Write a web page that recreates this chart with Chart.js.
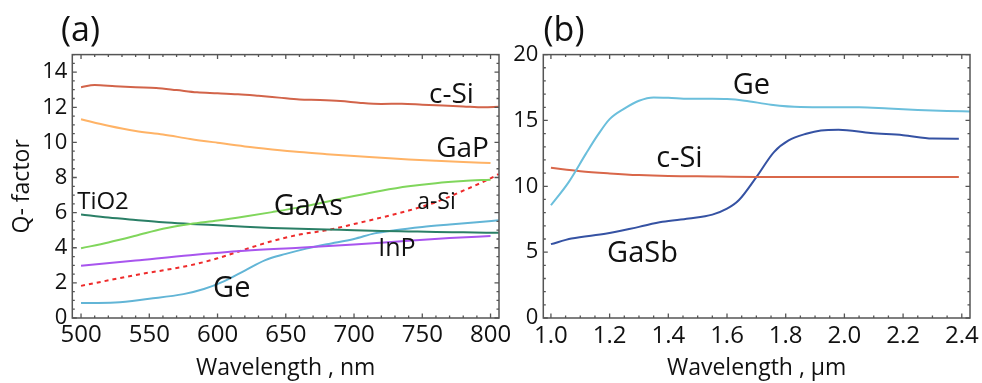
<!DOCTYPE html>
<html><head><meta charset="utf-8">
<script src="https://cdn.jsdelivr.net/npm/chart.js@4.4.1/dist/chart.umd.min.js"></script>
<style>
html,body{margin:0;padding:0;background:#fff;}
#wrap{position:relative;width:982px;height:383px;overflow:hidden;background:#fff;}
canvas{position:absolute;top:0;}
#ca{left:0;}
#cb{left:480px;}
</style></head><body>
<div id="wrap"><canvas id="ca" width="520" height="383"></canvas><canvas id="cb" width="520" height="383"></canvas></div>
<script>
// ---------- Panel (a) data: wavelength (nm) and Q-factor ----------
const wlA_cSi = [500,510,525,540,555,570,585,600,615,630,645,660,675,690,705,720,735,750,765,780,795,806];
const qA_cSi  = [13.14,13.27,13.2,13.14,13.1,12.98,12.85,12.8,12.74,12.65,12.55,12.45,12.42,12.36,12.25,12.19,12.2,12.15,12.1,12.05,12.0,12.03];
const wlA_GaP = [500,520,540,560,580,600,620,640,660,680,700,720,740,760,780,800];
const qA_GaP  = [11.32,10.95,10.65,10.45,10.2,9.98,9.77,9.6,9.45,9.33,9.22,9.13,9.03,8.95,8.88,8.83];
const wlA_GaAs = [500,520,540,560,580,600,620,640,660,680,700,720,740,760,780,800];
const qA_GaAs  = [3.97,4.3,4.68,5.08,5.35,5.55,5.78,6.03,6.3,6.62,6.95,7.25,7.5,7.68,7.8,7.88];
const wlA_TiO2 = [500,520,540,560,580,600,620,640,660,680,700,720,740,760,780,806];
const qA_TiO2  = [5.9,5.72,5.58,5.45,5.36,5.28,5.2,5.13,5.08,5.04,5.0,4.96,4.93,4.9,4.88,4.85];
const wlA_InP = [500,540,580,620,660,700,740,770,800];
const qA_InP  = [2.97,3.27,3.58,3.83,4.0,4.18,4.4,4.55,4.67];
const wlA_aSi = [500,540,580,600,620,640,660,680,700,720,740,760,780,800,806];
const qA_aSi  = [1.83,2.45,3.0,3.4,3.9,4.38,4.75,5.0,5.35,5.72,6.12,6.6,7.25,7.95,8.2];
const wlA_Ge = [500,525,550,575,590,605,620,635,650,665,680,700,715,730,750,770,790,806];
const qA_Ge  = [0.85,0.88,1.1,1.36,1.65,2.1,2.7,3.3,3.65,3.95,4.2,4.5,4.82,5.0,5.18,5.32,5.45,5.57];

// ---------- Panel (b) data: wavelength (µm) and Q-factor ----------
const wlB_Ge = [1.0,1.06,1.12,1.16,1.2,1.25,1.3,1.35,1.4,1.47,1.55,1.6,1.66,1.75,1.85,1.95,2.05,2.15,2.25,2.35,2.428];
const qB_Ge  = [8.56,10.3,12.5,13.9,15.1,15.9,16.5,16.75,16.72,16.64,16.64,16.62,16.5,16.2,16.02,16.0,16.0,15.9,15.8,15.72,15.68];
const wlB_cSi = [1.0,1.1,1.2,1.3,1.4,1.5,1.7,2.0,2.39];
const qB_cSi  = [11.41,11.15,10.98,10.85,10.78,10.76,10.71,10.71,10.71];
const wlB_GaSb = [1.0,1.07,1.19,1.3,1.38,1.47,1.55,1.6,1.64,1.7,1.76,1.81,1.87,1.92,1.98,2.09,2.2,2.3,2.39];
const qB_GaSb  = [5.61,6.03,6.41,6.92,7.3,7.55,7.85,8.3,8.94,10.7,12.6,13.48,13.99,14.24,14.29,14.04,13.88,13.62,13.61];

// ---------- Tick values ----------
const xTicksA = [500,550,600,650,700,750,800];
const yTicksA = [0,2,4,6,8,10,12,14];
const xTicksB = [1.0,1.2,1.4,1.6,1.8,2.0,2.2,2.4];
const yTicksB = [0,5,10,15,20];

const FONT = "'Open Sans', sans-serif";
const INK = '#111';

function pts(xs, ys){ return xs.map((v,i)=>({x:v, y:ys[i]})); }
function ds(xs, ys, color, dash){
  return {data: pts(xs, ys), borderColor: color, borderWidth: 2, pointRadius: 0,
          fill: false, cubicInterpolationMode: 'monotone', borderDash: dash || []};
}

const frameTicks = {
  id: 'frameTicks',
  afterDatasetsDraw(chart, args, o){
    const {ctx, chartArea: a, scales: {x, y}} = chart;
    ctx.save();
    ctx.strokeStyle = '#555'; ctx.lineWidth = 1.3;
    ctx.beginPath();
    const nx = Math.round((o.xEnd - o.xStart)/o.xStep);
    for (let i=0;i<=nx;i++){
      const v = o.xStart + i*o.xStep;
      const px = x.getPixelForValue(v);
      const L = (i % o.xMajorEvery === 0) ? 4.5 : 2.5;
      ctx.moveTo(px, a.bottom); ctx.lineTo(px, a.bottom - L);
      ctx.moveTo(px, a.top); ctx.lineTo(px, a.top + L);
    }
    const ny = Math.round((o.yEnd - o.yStart)/o.yStep);
    for (let i=0;i<=ny;i++){
      const v = o.yStart + i*o.yStep;
      const py = y.getPixelForValue(v);
      const L = (i % o.yMajorEvery === 0) ? 4.5 : 2.5;
      ctx.moveTo(a.left, py); ctx.lineTo(a.left + L, py);
      ctx.moveTo(a.right, py); ctx.lineTo(a.right - L, py);
    }
    ctx.stroke();
    ctx.lineWidth = 1.5;
    ctx.strokeRect(a.left, a.top, a.right - a.left, a.bottom - a.top);
    ctx.restore();
  }
};

const curveLabels = {
  id: 'curveLabels',
  afterDraw(chart, args, o){
    const {ctx, scales: {x, y}} = chart;
    ctx.save();
    ctx.fillStyle = INK; ctx.textAlign = 'center'; ctx.textBaseline = 'alphabetic';
    o.items.forEach(it => {
      ctx.font = it.size + 'px ' + FONT;
      ctx.fillText(it.text, x.getPixelForValue(it.x), y.getPixelForValue(it.y));
    });
    ctx.font = o.panel.size + 'px ' + FONT;
    ctx.fillText(o.panel.text, o.panel.px, o.panel.py);
    ctx.restore();
  }
};

function axisX(min, max, ticks, title, pad, fmt){
  return {type: 'linear', min: min, max: max,
    afterBuildTicks: s => { s.ticks = ticks.map(v => ({value: v})); },
    afterFit: s => { s.height = 65; },
    grid: {display: false, drawTicks: false}, border: {display: false},
    ticks: {font: {family: FONT, size: 24}, color: INK, padding: pad, maxRotation: 0, autoSkip: false,
            callback: fmt},
    title: {display: true, text: title, font: {family: FONT, size: 23}, color: INK, padding: {top: 0, bottom: 1}}
  };
}
function axisY(min, max, ticks, width, title){
  return {type: 'linear', min: min, max: max,
    afterBuildTicks: s => { s.ticks = ticks.map(v => ({value: v})); },
    afterFit: s => { s.width = width; },
    grid: {display: false, drawTicks: false}, border: {display: false},
    ticks: {font: {family: FONT, size: 22}, color: INK, padding: 5, autoSkip: false},
    title: {display: !!title, text: title || '', font: {family: FONT, size: 23}, color: INK, padding: {top: 9, bottom: 0}}
  };
}

const common = {
  responsive: false, animation: false, devicePixelRatio: 1,
  events: []
};

new Chart(document.getElementById('ca'), {
  type: 'line',
  data: {datasets: [
    ds(wlA_cSi, qA_cSi, '#d2644a'),
    ds(wlA_GaP, qA_GaP, '#ffb366'),
    ds(wlA_GaAs, qA_GaAs, '#80d65c'),
    ds(wlA_TiO2, qA_TiO2, '#2a7f66'),
    ds(wlA_InP, qA_InP, '#a855ee'),
    ds(wlA_aSi, qA_aSi, '#ee2b2b', [4, 4]),
    ds(wlA_Ge, qA_Ge, '#62b5d6')
  ]},
  options: Object.assign({}, common, {
    layout: {padding: {top: 54.6, right: 21, left: 0, bottom: 0}},
    scales: {
      x: axisX(493.6, 806.2, xTicksA, 'Wavelength , nm', 3, v => String(v)),
      y: axisY(0, 15, yTicksA, 72.3, 'Q- factor')
    },
    plugins: {
      legend: {display: false}, tooltip: {enabled: false},
      frameTicks: {xStart: 500, xEnd: 800, xStep: 10, xMajorEvery: 5, yStart: 0, yEnd: 15, yStep: 0.5, yMajorEvery: 4},
      curveLabels: {
        items: [
          {text: 'c-Si', x: 771.4, y: 12.26, size: 28},
          {text: 'GaP', x: 779.5, y: 9.15, size: 28},
          {text: 'TiO2', x: 516.1, y: 6.19, size: 24},
          {text: 'GaAs', x: 666.5, y: 5.87, size: 29},
          {text: 'a-Si', x: 760.4, y: 6.19, size: 23},
          {text: 'InP', x: 731.4, y: 3.53, size: 25},
          {text: 'Ge', x: 610.4, y: 1.21, size: 29}
        ],
        panel: {text: '(a)', px: 80.5, py: 41, size: 34}
      }
    }
  }),
  plugins: [frameTicks, curveLabels]
});

new Chart(document.getElementById('cb'), {
  type: 'line',
  data: {datasets: [
    ds(wlB_Ge, qB_Ge, '#6bbfdc'),
    ds(wlB_cSi, qB_cSi, '#d9674a'),
    ds(wlB_GaSb, qB_GaSb, '#3552a3')
  ]},
  options: Object.assign({}, common, {
    layout: {padding: {top: 54.6, right: 30, left: 0, bottom: 0}},
    scales: {
      x: axisX(0.974, 2.428, xTicksB, 'Wavelength , µm', 4, v => Number(v).toFixed(1)),
      y: axisY(0, 20, yTicksB, 63.3, null)
    },
    plugins: {
      legend: {display: false}, tooltip: {enabled: false},
      frameTicks: {xStart: 1.0, xEnd: 2.4, xStep: 0.05, xMajorEvery: 4, yStart: 0, yEnd: 20, yStep: 1, yMajorEvery: 5},
      curveLabels: {
        items: [
          {text: 'Ge', x: 1.683, y: 17.01, size: 29},
          {text: 'c-Si', x: 1.438, y: 11.49, size: 29},
          {text: 'GaSb', x: 1.312, y: 4.27, size: 29}
        ],
        panel: {text: '(b)', px: 84, py: 41, size: 34}
      }
    }
  }),
  plugins: [frameTicks, curveLabels]
});
</script>
</body></html>
